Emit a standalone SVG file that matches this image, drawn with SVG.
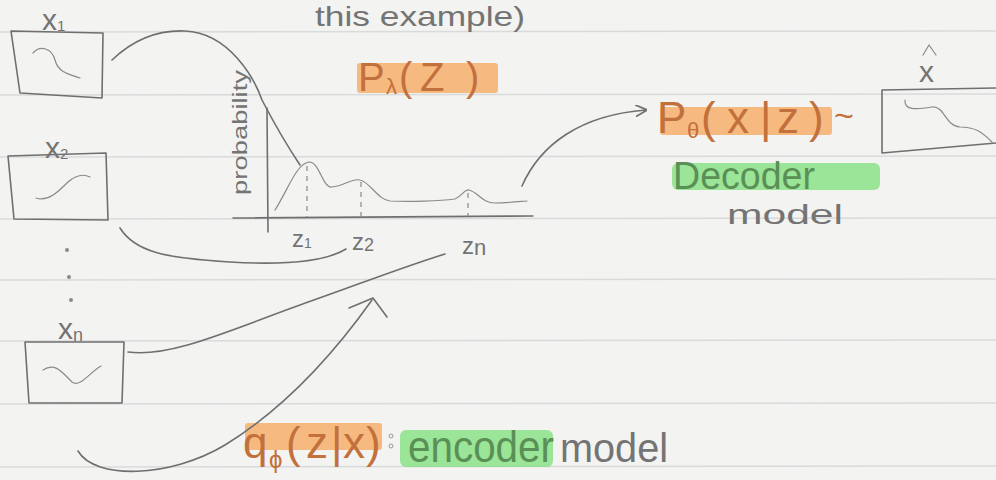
<svg xmlns="http://www.w3.org/2000/svg" width="996" height="480" viewBox="0 0 996 480">
<style>
.pen{fill:none;stroke:#6f6f6f;stroke-width:1.6;stroke-linecap:round;stroke-linejoin:round}
.thin{fill:none;stroke:#8a8a8a;stroke-width:1.2;stroke-linecap:round}
.dash{fill:none;stroke:#8a8a8a;stroke-width:1.2;stroke-dasharray:5 5}
.rule{stroke:#d9dadb;stroke-width:1.5}
.t{font-family:"Liberation Sans",Arial,sans-serif;fill:#747474}
.o{font-family:"Liberation Sans",Arial,sans-serif;fill:#c2703c}
.g{font-family:"Liberation Sans",Arial,sans-serif;fill:#5a8f55}
.hlo{fill:#f7a75a;opacity:0.75}
.hlg{fill:#7ee07a;opacity:0.75}
</style>
<defs>
<marker id="ah" viewBox="0 0 10 10" refX="9" refY="5" markerWidth="12" markerHeight="12" orient="auto" markerUnits="userSpaceOnUse"><path d="M0,0 L10,5 L0,10" fill="none" stroke="#6f6f6f" stroke-width="1.4"/></marker>
</defs>
<rect width="996" height="480" fill="#f3f3f1"/>
<g id="paper">
<line class="rule" x1="0" y1="32" x2="996" y2="31"/>
<line class="rule" x1="0" y1="95" x2="996" y2="94"/>
<line class="rule" x1="0" y1="157" x2="996" y2="156"/>
<line class="rule" x1="0" y1="219" x2="996" y2="218"/>
<line class="rule" x1="0" y1="280" x2="996" y2="279"/>
<line class="rule" x1="0" y1="341" x2="996" y2="340"/>
<line class="rule" x1="0" y1="404" x2="996" y2="403"/>
<line class="rule" x1="0" y1="467" x2="996" y2="466"/>
</g>
<g id="x1">
<path class="pen" d="M11,31 L103,33 L102,98 L20,93 Z"/>
<path class="thin" d="M33,53 C40,45 52,48 55,60 C58,72 68,74 80,78"/>
<text class="t" x="42" y="30" font-size="30">x<tspan font-size="15" dy="1">1</tspan></text>
</g>
<g id="x2">
<path class="pen" d="M8,156 L106,153 L108,220 L14,219 Z"/>
<path class="thin" d="M36,198 C48,202 58,192 68,182 C76,175 84,174 90,177"/>
<text class="t" x="45" y="158" font-size="30">x<tspan font-size="15" dy="1">2</tspan></text>
</g>
<g id="dots">
<circle cx="67" cy="250" r="2" fill="#8a8a8a"/>
<circle cx="69" cy="277" r="2" fill="#8a8a8a"/>
<circle cx="71" cy="300" r="2" fill="#8a8a8a"/>
</g>
<g id="xn">
<path class="pen" d="M25,342 L124,342 L122,403 L29,403 Z"/>
<path class="thin" d="M43,370 C55,362 62,372 72,382 C80,388 90,372 101,366"/>
<text class="t" x="58" y="339" font-size="30">x<tspan font-size="18" dy="2">n</tspan></text>
</g>
<g id="chart">
<line class="pen" x1="267" y1="108" x2="268" y2="232"/>
<line class="pen" x1="233" y1="218" x2="533" y2="216"/>
<text class="t" transform="translate(247,195) rotate(-90)" font-size="20" textLength="125" lengthAdjust="spacingAndGlyphs">probability</text>
<path class="thin" d="M275,210 C288,190 296,164 309,162 C320,162 322,188 332,187 C344,186 352,178 360,180 C370,182 378,200 390,201 C410,202 440,201 455,199 C462,196 465,189 469,190 C478,192 482,203 495,203 C505,203 515,202 527,201"/>
<line class="dash" x1="307" y1="166" x2="307" y2="217"/>
<line class="dash" x1="361" y1="182" x2="361" y2="216"/>
<line class="dash" x1="468" y1="193" x2="468" y2="216"/>
<text class="t" x="292" y="247" font-size="24">z<tspan font-size="14" dy="1">1</tspan></text>
<text class="t" x="352" y="250" font-size="24">z<tspan font-size="18" dy="1">2</tspan></text>
<text class="t" x="462" y="254" font-size="24">z<tspan font-size="22" dy="1">n</tspan></text>
</g>
<g id="title">
<text class="t" x="315" y="26" font-size="28" textLength="210" lengthAdjust="spacingAndGlyphs">this example)</text>
</g>
<g id="prior">
<rect class="hlo" x="357" y="63" width="141" height="30" rx="3"/>
<text class="o" y="91" font-size="40"><tspan x="358">P</tspan><tspan x="386" font-size="22" dy="3">λ</tspan><tspan x="399" dy="-3">(</tspan><tspan x="420">Z</tspan><tspan x="466">)</tspan></text>
</g>
<g id="decoder">
<rect class="hlo" x="660" y="107" width="172" height="28" rx="3"/>
<text class="o" y="133" font-size="44"><tspan x="657">P</tspan><tspan x="687" font-size="22" dy="5">θ</tspan><tspan x="701" dy="-5">(</tspan><tspan x="727">x</tspan><tspan x="760">|</tspan><tspan x="777">z</tspan><tspan x="809">)</tspan><tspan x="834" font-size="34" dy="-6">~</tspan></text>
<rect class="hlg" x="672" y="163" width="208" height="27" rx="6"/>
<text class="g" x="673" y="189" font-size="38" textLength="142" lengthAdjust="spacingAndGlyphs">Decoder</text>
<text class="t" x="727" y="224" font-size="28" textLength="116" lengthAdjust="spacingAndGlyphs">model</text>
</g>
<g id="xhat">
<path class="pen" d="M882,90 L996,88 M882,90 L882,153 L996,143"/>
<path class="thin" d="M905,100 C904,110 915,110 932,107 C945,106 945,126 960,127 C975,127 982,132 992,142"/>
<text class="t" x="919" y="82" font-size="30">x</text>
<path class="thin" d="M923,55 L929,45 L936,55"/>
</g>
<g id="encoder">
<rect class="hlo" x="245" y="423" width="137" height="27" rx="3"/>
<text class="o" y="458" font-size="44"><tspan x="243">q</tspan><tspan x="269" font-size="24" dy="10">ϕ</tspan><tspan x="286" dy="-10">(</tspan><tspan x="306">z</tspan><tspan x="331">|</tspan><tspan x="343">x</tspan><tspan x="366">)</tspan></text>
<circle cx="391" cy="436" r="2" fill="none" stroke="#999"/>
<circle cx="391" cy="446" r="2" fill="none" stroke="#999"/>
<rect class="hlg" x="400" y="430" width="153" height="37" rx="6"/>
<text class="g" x="408" y="462" font-size="44" textLength="146" lengthAdjust="spacingAndGlyphs">encoder</text>
<text class="t" x="560" y="462" font-size="40" textLength="108" lengthAdjust="spacingAndGlyphs">model</text>
</g>
<g id="connectors">
<path class="pen" d="M112,60 C135,38 160,30 185,31 C230,33 255,80 262,100 C275,125 290,150 300,165"/>
<path class="pen" d="M120,228 C135,252 165,258 230,262 C280,265 325,262 346,249"/>
<path class="pen" d="M128,352 C170,358 230,330 300,305 C360,284 400,268 445,254"/>
<path class="pen" d="M78,451 C95,480 170,478 225,445 C290,405 340,345 372,300"/>
<path class="pen" d="M349,308 L373,298 L387,317"/>
<path class="pen" d="M522,186 C540,145 580,115 646,110" marker-end="url(#ah)"/>
</g>
</svg>
